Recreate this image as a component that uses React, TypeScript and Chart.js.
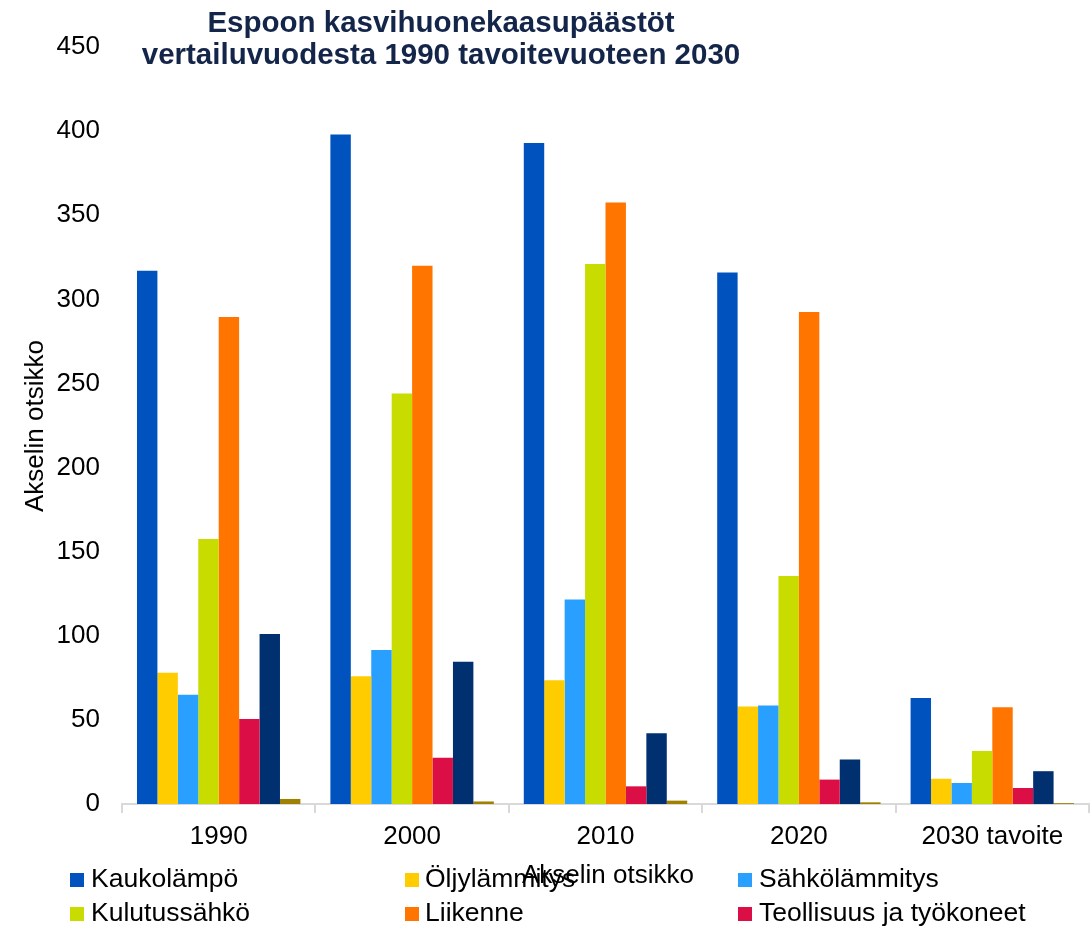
import React, { useEffect, useRef } from "react";
import { Chart, registerables } from "chart.js";

Chart.register(...registerables);

const titleLines = ["Espoon kasvihuonekaasupäästöt", "vertailuvuodesta 1990 tavoitevuoteen 2030"];
const axisTitle = "Akselin otsikko";
const categories = ["1990", "2000", "2010", "2020", "2030 tavoite"];

const seriesNames = [
  "Kaukolämpö",
  "Öljylämmitys",
  "Sähkölämmitys",
  "Kulutussähkö",
  "Liikenne",
  "Teollisuus ja työkoneet",
  "Maatalous",
  "Jätteiden käsittely",
];
const seriesColors = ["#0052BE", "#FFCC00", "#29A0FF", "#C8DC00", "#FF7500", "#DC0E46", "#003070", "#A08000"];

const kaukolampo = [317, 398, 393, 316, 63];
const oljylammitys = [78, 76, 73.5, 58, 15];
const sahkolammitys = [65, 91.5, 121.5, 58.5, 12.5];
const kulutussahko = [157.5, 244, 321, 135.5, 31.5];
const liikenne = [289.5, 320, 357.5, 292.5, 57.5];
const teollisuus = [50.5, 27.5, 10.5, 14.5, 9.5];
const maatalous = [101, 84.5, 42, 26.5, 19.5];
const jatteet = [3, 1.5, 2, 1, 0.5];

const seriesValues = [kaukolampo, oljylammitys, sahkolammitys, kulutussahko, liikenne, teollisuus, maatalous, jatteet];

const yMin = 0;
const yMax = 450;
const yStep = 50;

const FONT = "'Liberation Sans', Arial, sans-serif";

const legendCols = [{ box: 70, text: 91 }, { box: 405, text: 425 }, { box: 738, text: 759 }];
const legendRowBaselines = [887, 921, 955];

export default function App() {
  const canvasRef = useRef<HTMLCanvasElement | null>(null);

  useEffect(() => {
    document.body.style.margin = "0";
    const ctx = canvasRef.current;
    if (!ctx) return;
    const chart = new Chart(ctx, {
      type: "bar",
      data: {
        labels: categories,
        datasets: seriesNames.map((name, i) => ({
          label: name,
          data: seriesValues[i],
          backgroundColor: seriesColors[i],
          borderWidth: 0,
          barPercentage: 1,
          categoryPercentage: 0.845,
        })),
      },
      options: {
        animation: false,
        responsive: false,
        maintainAspectRatio: false,
        layout: { padding: { top: 47, right: 3, bottom: 0, left: 0 } },
        plugins: {
          legend: { display: false },
          title: { display: false },
          tooltip: { enabled: false },
        },
        scales: {
          x: {
            type: "category",
            offset: true,
            grid: {
              display: true,
              drawOnChartArea: false,
              drawTicks: true,
              tickLength: 9,
              color: "#D9D9D9",
              lineWidth: 2,
              offset: true,
            },
            border: { display: true, color: "#D9D9D9", width: 2 },
            ticks: { color: "#000", font: { family: FONT, size: 26 }, padding: 8, maxRotation: 0 },
            afterFit: (s: any) => {
              s.height = 927 - 804;
            },
          },
          y: {
            min: yMin,
            max: yMax,
            grid: { display: false, drawTicks: false },
            border: { display: false },
            ticks: { stepSize: yStep, color: "#000", font: { family: FONT, size: 26 }, padding: 22 },
            afterFit: (s: any) => {
              s.width = 122;
            },
          },
        },
      },
    });
    return () => chart.destroy();
  }, []);

  const textBase: React.CSSProperties = {
    position: "absolute",
    fontFamily: FONT,
    fontSize: 26,
    color: "#000",
    whiteSpace: "nowrap",
    lineHeight: "30px",
  };

  return (
    <div style={{ position: "absolute", left: 0, top: 0, width: 1092, height: 927, overflow: "hidden", background: "#fff" }}>
      <canvas ref={canvasRef} width={1092} height={927} style={{ position: "absolute", left: 0, top: 0 }} />
      <div
        style={{
          position: "absolute",
          left: 0,
          top: 6,
          width: 882,
          textAlign: "center",
          fontFamily: FONT,
          fontWeight: "bold",
          fontSize: 29.5,
          lineHeight: "32px",
          color: "#14254A",
        }}
      >
        {titleLines.map((t, i) => (
          <div key={i}>{t}</div>
        ))}
      </div>
      <div
        style={{
          ...textBase,
          left: 34,
          top: 426,
          transform: "translate(-50%, -50%) rotate(-90deg)",
        }}
      >
        {axisTitle}
      </div>
      {seriesNames.map((name, i) => {
        const col = legendCols[i % 3];
        const base = legendRowBaselines[Math.floor(i / 3)];
        return (
          <React.Fragment key={name}>
            <div
              style={{
                position: "absolute",
                left: col.box,
                top: base - 14,
                width: 14,
                height: 14,
                background: seriesColors[i],
              }}
            />
            <div style={{ ...textBase, fontSize: 26.5, left: col.text, top: base - 24 }}>{name}</div>
          </React.Fragment>
        );
      })}
      <div style={{ ...textBase, left: 608, top: 874, transform: "translate(-50%, -50%)" }}>{axisTitle}</div>
    </div>
  );
}
